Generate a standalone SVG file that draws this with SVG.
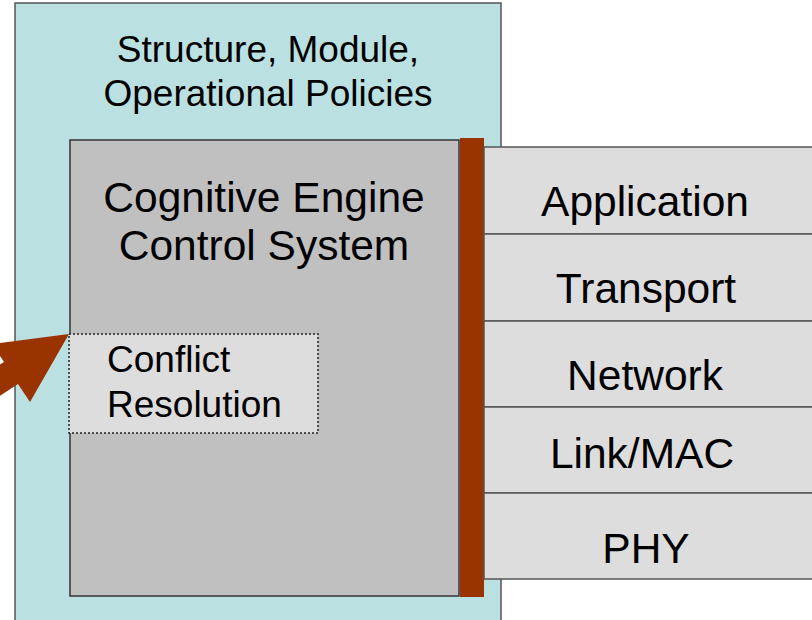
<svg xmlns="http://www.w3.org/2000/svg" width="812" height="620" viewBox="0 0 812 620">
<style>
text{font-family:"Liberation Sans",Arial,sans-serif;fill:#000}
.big{font-size:42.5px}
.mid{font-size:37px}
.c{text-anchor:middle}
.layer{fill:#DDDDDD;stroke:#555555;stroke-width:1.5}
</style>
<rect width="812" height="620" fill="#FFFFFF"/>
<g id="policies">
<rect x="15" y="3" width="486" height="640" fill="#BAE0E2" stroke="#555555" stroke-width="1.5"/>
<text class="mid c" x="268" y="62">Structure, Module,</text>
<text class="mid c" x="268" y="106">Operational Policies</text>
</g>
<g id="engine">
<rect x="70" y="140" width="389" height="456" fill="#C0C0C0" stroke="#333333" stroke-width="1.5"/>
<text class="big c" x="264" y="212">Cognitive Engine</text>
<text class="big c" x="264" y="260">Control System</text>
</g>
<g id="bar">
<rect x="460" y="138" width="24" height="459" fill="#993300"/>
</g>
<g id="stack">
<rect class="layer" x="484" y="147" width="340" height="87"/>
<rect class="layer" x="484" y="234" width="340" height="87"/>
<rect class="layer" x="484" y="321" width="340" height="86"/>
<rect class="layer" x="484" y="407" width="340" height="86"/>
<rect class="layer" x="484" y="493" width="340" height="86"/>
<text class="big c" x="645" y="216">Application</text>
<text class="big c" x="646" y="303">Transport</text>
<text class="big c" x="645" y="390">Network</text>
<text class="big c" x="642" y="468">Link/MAC</text>
<text class="big c" x="646" y="563">PHY</text>
</g>
<g id="conflict">
<rect x="69" y="334" width="249" height="99" fill="#DDDDDD" stroke="#222222" stroke-width="1.5" stroke-dasharray="2,2"/>
<text style="font-size:37px" x="107" y="372">Conflict</text>
<text style="font-size:37px" x="107" y="417">Resolution</text>
</g>
<g id="connectors">
<polygon points="69,334 -8,344 4,362 -80,417 -66,439 18,384 30,402" fill="#993300"/>
</g>
</svg>
